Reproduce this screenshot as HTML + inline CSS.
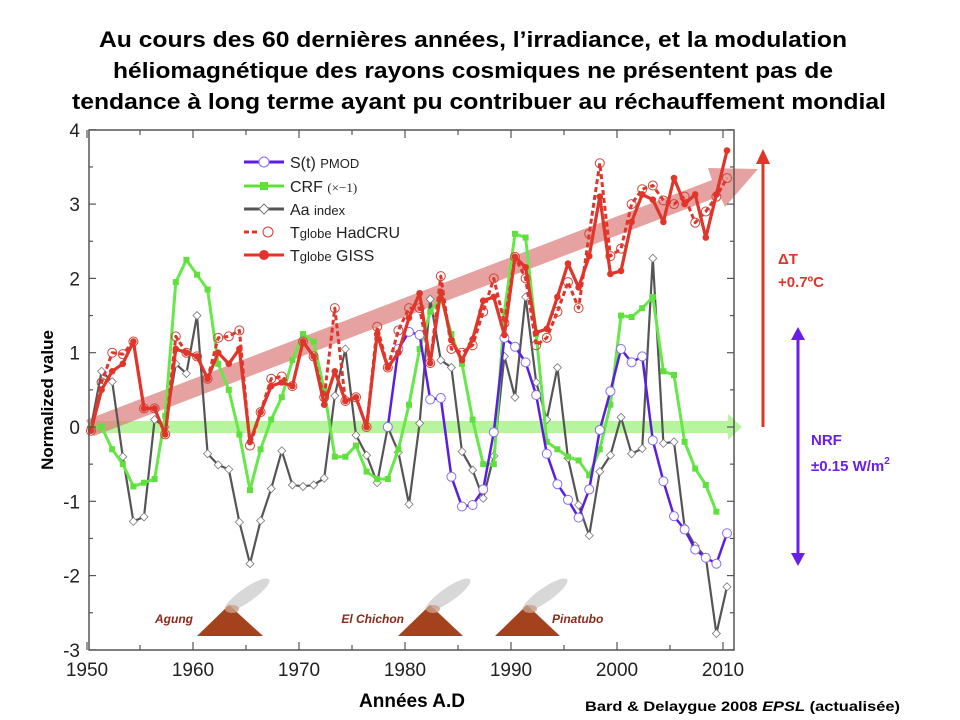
<!DOCTYPE html>
<html><head><meta charset="utf-8"><style>
html,body{margin:0;padding:0;background:#fff;}
svg{display:block;font-family:"Liberation Sans",sans-serif;}
</style></head><body>
<svg id="s" width="960" height="720" xmlns="http://www.w3.org/2000/svg">
<g font-weight="bold" font-size="22" text-anchor="middle" fill="#000">
<text x="473" y="47" textLength="748" lengthAdjust="spacingAndGlyphs">Au cours des 60 dernières années, l’irradiance, et la modulation</text>
<text x="473" y="78" textLength="720" lengthAdjust="spacingAndGlyphs">héliomagnétique des rayons cosmiques ne présentent pas de</text>
<text x="479" y="109" textLength="814" lengthAdjust="spacingAndGlyphs">tendance à long terme ayant pu contribuer au réchauffement mondial</text>
</g>
<g id="plot"></g>
</svg>
<script>
const NS="http://www.w3.org/2000/svg";
const s=document.getElementById('plot');
function el(t,a,txt){const e=document.createElementNS(NS,t);for(const k in a)e.setAttribute(k,a[k]);if(txt!==undefined)e.textContent=txt;s.appendChild(e);return e;}
const X=i=>91+10.6*i, Y=v=>427-74.3*v;
const L=89,R=734,T=130,B=650;
el('path',{d:'M90,421 L728,421 L728,414 L742,427 L728,440 L728,433 L90,433 Z',fill:'#9ef27e',opacity:0.75});
el('path',{d:`M86,420 L712,180 L708,168 L758,169 L725,207 L720,196 L94,436 Z`,fill:'#dc7b78',opacity:0.7});
function volc(x0,x1,ax){el('ellipse',{cx:ax+18,cy:595,rx:27,ry:7,transform:`rotate(-35 ${ax+18} 595)`,fill:'#c8c8c8',opacity:0.7});
el('path',{d:`M${x0},636 L${x1},636 L${ax},605 Z`,fill:'#a3421c'});
el('ellipse',{cx:ax+3,cy:609,rx:7,ry:4,fill:'#c9a08a',opacity:0.8});}
volc(197,263,229);volc(398,463,430);volc(495,560,527);
const vl={fill:'#8b2a1a','font-size':12,'font-weight':'bold','font-style':'italic'};
el('text',Object.assign({x:193,y:623,'text-anchor':'end'},vl),'Agung');
el('text',Object.assign({x:404,y:623,'text-anchor':'end'},vl),'El Chichon');
el('text',Object.assign({x:552,y:623},vl),'Pinatubo');
const giss=[-0.05,0.5,0.75,0.85,1.15,0.25,0.25,-0.1,1.05,1.0,0.95,0.65,1.0,0.85,1.05,-0.2,0.2,0.55,0.6,0.55,1.15,0.95,0.3,0.75,0.35,0.4,0,1.25,0.8,1.0,1.47,1.8,0.86,1.82,1.17,0.9,1.18,1.7,1.75,1.24,2.29,2.15,1.27,1.32,1.75,2.2,1.88,2.3,3.1,2.06,2.1,2.76,3.13,3.06,2.76,3.35,3.0,3.13,2.55,3.13,3.72];
const had=giss.slice();
Object.assign(had,{1:0.6,2:1.0,3:0.98,8:1.22,9:1.0,12:1.2,13:1.22,14:1.3,15:-0.25,17:0.65,18:0.68,22:0.4,23:1.6,27:1.35,29:1.3,30:1.6,31:1.6,33:2.03,34:1.05,35:1.0,36:1.1,37:1.55,38:2.0,39:1.4,41:2.0,42:1.1,43:1.2,44:1.55,45:1.95,46:1.6,47:2.6,48:3.55,49:2.3,50:2.4,51:3.0,52:3.2,53:3.25,54:3.05,55:3.0,56:3.1,57:2.75,58:2.9,59:3.1,60:3.35});
const crf=[0,0,-0.3,-0.5,-0.8,-0.75,-0.7,0.15,1.95,2.25,2.05,1.85,0.85,0.5,-0.1,-0.85,-0.3,0.1,0.4,0.9,1.25,1.15,0.5,-0.4,-0.4,-0.25,-0.6,-0.7,-0.7,-0.3,0.3,1.05,1.55,1.75,1.25,0.85,0.1,-0.5,-0.5,1.55,2.6,2.55,1.25,-0.2,-0.3,-0.4,-0.45,-0.65,-0.3,0.3,1.5,1.48,1.6,1.75,0.75,0.7,-0.2,-0.56,-0.78,-1.14];
const aa=[0,0.75,0.61,-0.4,-1.27,-1.21,0.1,0.0,0.85,0.72,1.5,-0.36,-0.51,-0.57,-1.28,-1.84,-1.26,-0.83,-0.32,-0.78,-0.8,-0.78,-0.69,0.42,1.05,-0.11,-0.38,-0.75,0,-0.34,-1.04,0.05,1.72,0.9,0.8,-0.33,-0.58,-0.96,-0.39,0.95,0.4,1.75,0.6,0.1,0.8,-0.42,-1.05,-1.46,-0.6,-0.38,0.13,-0.36,-0.29,2.27,-0.22,-0.2,-1.35,-1.6,-1.75,-2.78,-2.15];
const pm=[0,1.05,1.28,1.24,0.37,0.39,-0.67,-1.07,-1.05,-0.84,-0.07,1.2,1.08,0.87,0.43,-0.36,-0.77,-0.98,-1.22,-0.84,-0.04,0.48,1.05,0.87,0.95,-0.18,-0.73,-1.2,-1.38,-1.65,-1.76,-1.84,-1.43];
function pts(arr,off){return arr.map((v,i)=>[X(i+off),Y(v)]);}
function line(p,c,w,dash){el('polyline',{points:p.map(q=>q.join(',')).join(' '),fill:'none',stroke:c,'stroke-width':w,'stroke-linejoin':'round','stroke-dasharray':dash||'none'});}
let p=pts(aa,0);line(p,'#555',2.2);
p.forEach(q=>el('path',{d:`M${q[0]},${q[1]-4} l4,4 l-4,4 l-4,-4 Z`,fill:'#fff',stroke:'#777','stroke-width':0.8}));
p=pts(crf,0);line(p,'#66e84a',3);
p.forEach(q=>el('rect',{x:q[0]-3,y:q[1]-3,width:6,height:6,fill:'#5fe03c'}));
p=pts(pm,28);line(p,'#5a1ee0',2.5);
p.forEach(q=>el('circle',{cx:q[0],cy:q[1],r:4.5,fill:'#fff',stroke:'#8a6cf0','stroke-width':1}));
p=pts(had,0);line(p,'#e0352a',3,'5,3');
p.forEach(q=>el('circle',{cx:q[0],cy:q[1],r:4.5,fill:'none',stroke:'#d0453a','stroke-width':1}));
p=pts(giss,0);line(p,'#e0352a',3.2);
p.forEach(q=>el('circle',{cx:q[0],cy:q[1],r:3.3,fill:'#e0352a'}));
el('rect',{x:L,y:T,width:R-L,height:B-T,fill:'none',stroke:'#555','stroke-width':1.5});
for(let v=-3;v<=4;v+=0.5){const y=Y(v);el('line',{x1:L,y1:y,x2:L+(v%1?4:7),y2:y,stroke:'#555','stroke-width':1.2});el('line',{x1:R,y1:y,x2:R-(v%1?4:7),y2:y,stroke:'#555','stroke-width':1.2});
 if(v%1===0)el('text',{x:80,y:y+7,'text-anchor':'end','font-size':19,fill:'#222'},String(v));}
for(let yr=1950;yr<=2010;yr+=5){const x=87+10.6*(yr-1950);const k=yr%10?5:8;
 el('line',{x1:x,y1:B,x2:x,y2:B-k,stroke:'#555','stroke-width':1.2});el('line',{x1:x,y1:T,x2:x,y2:T+k,stroke:'#555','stroke-width':1.2});
 if(yr%10===0)el('text',{x:x,y:676,'text-anchor':'middle','font-size':19,fill:'#222'},String(yr));}
el('text',{x:53,y:400,'text-anchor':'middle','font-size':17,'font-weight':'bold',transform:'rotate(-90 53 400)'},'Normalized value');
el('text',{x:412,y:707,'text-anchor':'middle','font-size':19,'font-weight':'bold'},'Années A.D');
const cr=el('text',{x:585,y:711,'font-size':14,'font-weight':'bold',textLength:315,lengthAdjust:'spacingAndGlyphs'});
cr.innerHTML='Bard &amp; Delaygue 2008 <tspan font-style="italic">EPSL</tspan> (actualisée)';
const lg=[[162,'#5a1ee0','circ'],[186,'#5fe03c','sq'],[209,'#555','dia'],[232,'#e0352a','dash'],[255,'#e0352a','dot']];
lg.forEach(([y,c,t])=>{
 if(t==='dash'){el('line',{x1:244,y1:y,x2:260,y2:y,stroke:c,'stroke-width':3,'stroke-dasharray':'5,3'});el('circle',{cx:268,cy:y,r:5,fill:'#fff',stroke:c});}
 else{el('line',{x1:244,y1:y,x2:284,y2:y,stroke:c,'stroke-width':3});
 if(t==='circ')el('circle',{cx:264,cy:y,r:5,fill:'#fff',stroke:'#8a6cf0'});
 if(t==='sq')el('rect',{x:260,y:y-4,width:8,height:8,fill:c});
 if(t==='dia')el('path',{d:`M264,${y-5} l5,5 l-5,5 l-5,-5 Z`,fill:'#fff',stroke:'#777'});
 if(t==='dot')el('circle',{cx:264,cy:y,r:5,fill:c});}
});
const lt=(y,html)=>{const e=el('text',{x:290,y:y+6,'font-size':16,fill:'#222'});e.innerHTML=html;};
lt(162,'S(t) <tspan font-size="13">PMOD</tspan>');
lt(186,'CRF <tspan font-size="13" font-family="Liberation Serif">(×−1)</tspan>');
lt(209,'Aa <tspan font-size="13">index</tspan>');
lt(232,'T<tspan font-size="13">globe</tspan> HadCRU');
lt(255,'T<tspan font-size="13">globe</tspan> GISS');
el('line',{x1:763,y1:160,x2:763,y2:427,stroke:'#e0352a','stroke-width':3});
el('path',{d:'M756,164 L763,149 L770,164 Z',fill:'#e0352a'});
el('text',{x:778,y:264,'font-size':15,'font-weight':'bold',fill:'#e0352a'},'ΔT');
el('text',{x:778,y:287,'font-size':15,'font-weight':'bold',fill:'#e0352a'},'+0.7ºC');
el('line',{x1:798,y1:337,x2:798,y2:556,stroke:'#6a1ee8','stroke-width':3});
el('path',{d:'M791,340 L798,327 L805,340 Z',fill:'#6a1ee8'});
el('path',{d:'M791,553 L798,566 L805,553 Z',fill:'#6a1ee8'});
el('text',{x:811,y:445,'font-size':15,'font-weight':'bold',fill:'#6a1ee8'},'NRF');
const nr=el('text',{x:811,y:471,'font-size':15,'font-weight':'bold',fill:'#6a1ee8'});
nr.innerHTML='±0.15 W/m<tspan font-size="10" dy="-7">2</tspan>';
</script>
</body></html>
